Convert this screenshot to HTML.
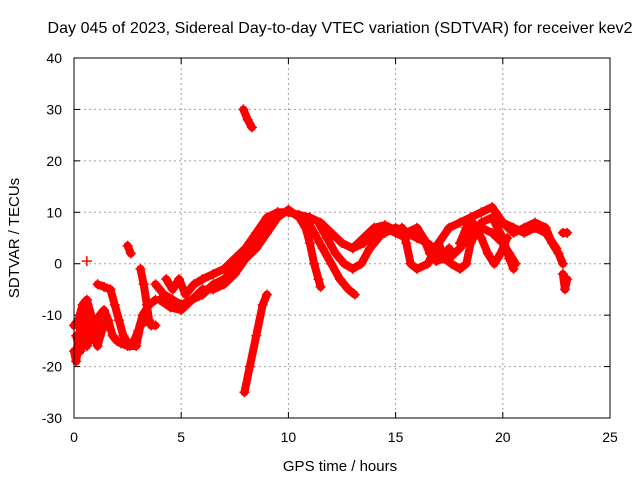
<!DOCTYPE html>
<html><head><meta charset="utf-8"><style>
body{margin:0;background:#fff;}
svg{display:block;font-family:"Liberation Sans",sans-serif;}
</style></head><body>
<svg id="chart" width="640" height="480" viewBox="0 0 640 480"></svg>
<script>
const xTicks=[0,5,10,15,20,25];
const yTicks=[-30,-20,-10,0,10,20,30,40];
const trackA1=[[3.8,-4],[4.2,-6],[4.6,-7],[5,-8],[5.5,-7],[6,-6],[6.5,-4],[7,-3],[7.5,-1],[8,2],[8.5,5],[9,8],[9.5,10],[10,10],[10.5,9.5],[11,9],[11.5,8],[12,6],[12.5,4],[13,3],[13.5,4],[14,6],[14.5,7],[15,6],[15.5,5]];
const trackA2=[[4,-7],[4.5,-8.5],[5,-9],[5.5,-7],[6,-5],[6.5,-5],[7,-4],[7.5,-2],[8,1],[8.5,3],[9,6],[9.5,9],[10,10.5],[10.5,9],[10.8,7],[11,4],[11.2,0],[11.4,-3],[11.5,-4.5]];
const trackA5=[[4.3,-3],[4.6,-5],[4.9,-3],[5.2,-6],[5.6,-4],[6,-3],[6.5,-2],[7,-1],[7.5,1],[8,3],[8.5,6],[9,9],[9.5,10]];
const trackA3=[[10.8,9],[11.2,6],[11.6,3],[12,0],[12.4,-3],[12.8,-5],[13.1,-6]];
const trackA4=[[11.4,8],[11.8,5],[12.2,2],[12.6,0],[13,-1],[13.4,0],[13.8,3],[14.2,5]];
const trackE1=[[0,-17],[0.1,-19],[0.2,-16],[0.3,-12],[0.4,-10],[0.5,-14],[0.6,-16],[0.7,-15],[0.8,-13],[1,-12],[1.2,-10],[1.4,-9],[1.6,-11],[1.8,-14],[2,-15],[2.2,-15.5],[2.5,-16],[2.8,-15],[3,-13],[3.2,-10],[3.5,-8],[3.8,-7]];
const trackE2=[[0,-12],[0.2,-11],[0.4,-8],[0.6,-7],[0.8,-10],[1,-12],[1.2,-14]];
const trackE3=[[1.1,-4],[1.4,-4.5],[1.7,-5],[1.9,-8],[2.1,-11],[2.3,-14],[2.6,-16],[2.9,-16],[3.1,-12],[3.4,-11]];
const trackE4=[[3.1,-1],[3.25,-4],[3.4,-8],[3.5,-11],[3.6,-12],[3.8,-12]];
const trackE5=[[0.1,-14],[0.3,-17],[0.5,-12],[0.7,-9],[0.9,-14],[1.1,-16],[1.3,-13],[1.5,-11]];
const trackS1=[[7.9,30],[8.1,28],[8.3,26.5]];
const trackS2=[[7.95,-25],[8.2,-20],[8.5,-14],[8.8,-8],[9,-6]];
const trackS3=[[2.5,3.5],[2.65,2]];
const trackS4=[[0.6,0.5]];
const trackR1=[[13,3],[13.5,5],[14,7],[14.5,7.5],[15,6.5],[15.5,6],[16,7],[16.3,5],[16.6,2],[16.9,0.5],[17.2,1],[17.5,3]];
const trackR2=[[15.3,7],[15.5,4],[15.7,0],[16,-1],[16.5,0],[17,4],[17.5,7],[18,8],[18.5,9],[19,10],[19.5,11],[20,8],[20.5,6],[21,7],[21.5,8],[22,7],[22.3,4],[22.6,2],[22.8,0]];
const trackR3=[[17,4],[17.3,1],[17.6,0],[18,-1],[18.3,0],[18.5,4],[19,8],[19.5,9],[20,5],[20.3,1],[20.5,-1]];
const trackR4=[[18,4],[18.3,7],[18.6,8],[19,5],[19.3,2],[19.6,0],[19.9,2],[20.2,5]];
const trackR5=[[20,8],[20.5,7],[21,6],[21.5,7],[22,6],[22.5,3]];
const trackR6=[[22.8,6],[23,6]];
const trackR7=[[22.8,-2],[22.9,-5],[23,-3]];
const trackR8=[[14,5],[14.5,6],[15,7],[15.5,6],[16,5],[16.5,4],[17,2],[17.5,1],[18,3],[18.5,6],[19,7],[19.5,6],[20,4],[20.3,2],[20.6,0]];
const tracks=[trackA1,trackA2,trackA5,trackA3,trackA4,trackE1,trackE2,trackE3,trackE4,trackE5,trackS1,trackS2,trackS3,trackS4,trackR1,trackR2,trackR3,trackR4,trackR5,trackR6,trackR7,trackR8];

const L=74,R=610,T=58,B=418,NS="http://www.w3.org/2000/svg";
const sx=v=>L+(v-0)/25*(R-L);
const sy=v=>B-(v+30)/70*(B-T);
const svg=document.getElementById('chart');
function mk(t,a,p){const e=document.createElementNS(NS,t);for(const k in a)e.setAttribute(k,a[k]);(p||svg).appendChild(e);return e;}

xTicks.forEach(v=>{
  if(v>0&&v<25){const g=mk('line',{x1:sx(v),x2:sx(v),y1:T,y2:B,stroke:'#a0a0a0','stroke-dasharray':'2,3'});
  
  }
  const t=mk('text',{x:sx(v),y:B+24,'text-anchor':'middle','font-size':'14',fill:'#000'});t.textContent=v;
  
  
  mk('line',{x1:sx(v),x2:sx(v),y1:B,y2:B-6,stroke:'#000'});
  mk('line',{x1:sx(v),x2:sx(v),y1:T,y2:T+6,stroke:'#000'});
});
yTicks.forEach(v=>{
  if(v>-30&&v<40){const g=mk('line',{x1:L,x2:R,y1:sy(v),y2:sy(v),stroke:'#a0a0a0','stroke-dasharray':'2,3'});
  
  }
  const t=mk('text',{x:L-12,y:sy(v)+5,'text-anchor':'end','font-size':'14',fill:'#000'});t.textContent=v;
  
  
  mk('line',{x1:L,x2:L+6,y1:sy(v),y2:sy(v),stroke:'#000'});
  mk('line',{x1:R,x2:R-6,y1:sy(v),y2:sy(v),stroke:'#000'});
});

const g=mk('g',{});


tracks.forEach(tr=>{
  const pl=mk('polyline',{points:tr.map(p=>sx(p[0])+','+sy(p[1])).join(' '),fill:'none',stroke:'#ff0000','stroke-width':'8','stroke-linejoin':'round','stroke-linecap':'round'},g);
  
  
  tr.forEach(p=>{
    const x=sx(p[0]),y=sy(p[1]);
    const m=mk('path',{d:`M${x-5},${y}H${x+5}M${x},${y-5}V${y+5}`,stroke:'#ff0000','stroke-width':'1.5'},g);
    
    
  });
});

const fr=mk('rect',{x:L,y:T,width:R-L,height:B-T,fill:'none',stroke:'#000'});


const ti=mk('text',{x:340,y:33,'text-anchor':'middle','font-size':'16',fill:'#000',textLength:'585'});
ti.textContent='Day 045 of 2023, Sidereal Day-to-day VTEC variation (SDTVAR) for receiver kev2';


const xl=mk('text',{x:340,y:471,'text-anchor':'middle','font-size':'15',fill:'#000'});
xl.textContent='GPS time / hours';


const yl=mk('text',{x:0,y:0,'text-anchor':'middle','font-size':'15',fill:'#000',transform:'translate(19,238) rotate(-90)'});
yl.textContent='SDTVAR / TECUs';


</script>
</body></html>
